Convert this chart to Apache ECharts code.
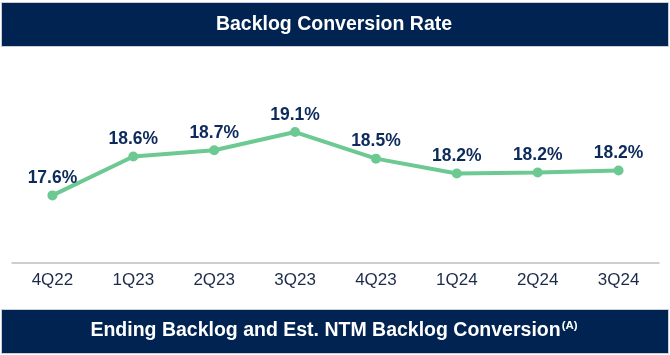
<!DOCTYPE html>
<html>
<head>
<meta charset="utf-8">
<script src="https://cdn.jsdelivr.net/npm/echarts@6/dist/echarts.min.js"></script>
<style>
html,body{margin:0;padding:0;background:#fff;}
#chart{width:670px;height:355px;}
</style>
</head>
<body>
<div id="chart"></div>
<script>
var categories = ['4Q22','1Q23','2Q23','3Q23','4Q23','1Q24','2Q24','3Q24'];
var conversionRate = [17.6, 18.52, 18.67, 19.1, 18.47, 18.12, 18.14, 18.19];
var rateLabels = ['17.6%','18.6%','18.7%','19.1%','18.5%','18.2%','18.2%','18.2%'];
var topTitle = 'Backlog Conversion Rate';
var bottomTitle = 'Ending Backlog and Est. NTM Backlog Conversion';
var bottomNote = '(A)';

var chart = echarts.init(document.getElementById('chart'), null, {renderer:'canvas'});
var font = 'Liberation Sans, Arial, sans-serif';
chart.setOption({
  animation:false,
  backgroundColor:'#ffffff',
  grid:{left:12, right:11, top:94, bottom:92},
  xAxis:{
    type:'category',
    data:categories,
    boundaryGap:true,
    axisLine:{show:true, lineStyle:{color:'#bfbfbf', width:1.5}},
    axisTick:{show:false},
    axisLabel:{color:'#1d2b4a', fontSize:17, fontFamily:font, margin:9}
  },
  yAxis:{
    type:'value', min:16, max:20, show:false,
    splitLine:{show:false}
  },
  series:[{
    type:'line',
    data:conversionRate,
    symbol:'circle',
    symbolSize:10,
    lineStyle:{color:'#6cc992', width:4},
    itemStyle:{color:'#6cc992'},
    label:{
      show:true, position:'top', distance:3,
      color:'#0d2a5c', fontSize:17.5, fontWeight:'bold', fontFamily:font,
      formatter:function(p){return rateLabels[p.dataIndex];}
    }
  }],
  graphic:[
    {type:'rect', shape:{x:1.5, y:2.5, width:667, height:44}, style:{fill:'#002352', stroke:'#c9ced8', lineWidth:1}},
    {type:'text', x:334, y:25, style:{text:topTitle, fill:'#ffffff', font:'bold 19.5px '+font, textAlign:'center', textVerticalAlign:'middle'}},
    {type:'rect', shape:{x:1.5, y:309.5, width:667, height:44}, style:{fill:'#002352', stroke:'#c9ced8', lineWidth:1}},
    {type:'text', x:334, y:331, style:{
      rich:{
        m:{fill:'#ffffff', font:'bold 19.5px '+font},
        s:{fill:'#ffffff', font:'bold 11.5px '+font, verticalAlign:'top', padding:[0,0,11,1]}
      },
      text:'{m|'+bottomTitle+'}{s|'+bottomNote+'}',
      textAlign:'center', textVerticalAlign:'middle'
    }}
  ]
});
</script>
</body>
</html>
